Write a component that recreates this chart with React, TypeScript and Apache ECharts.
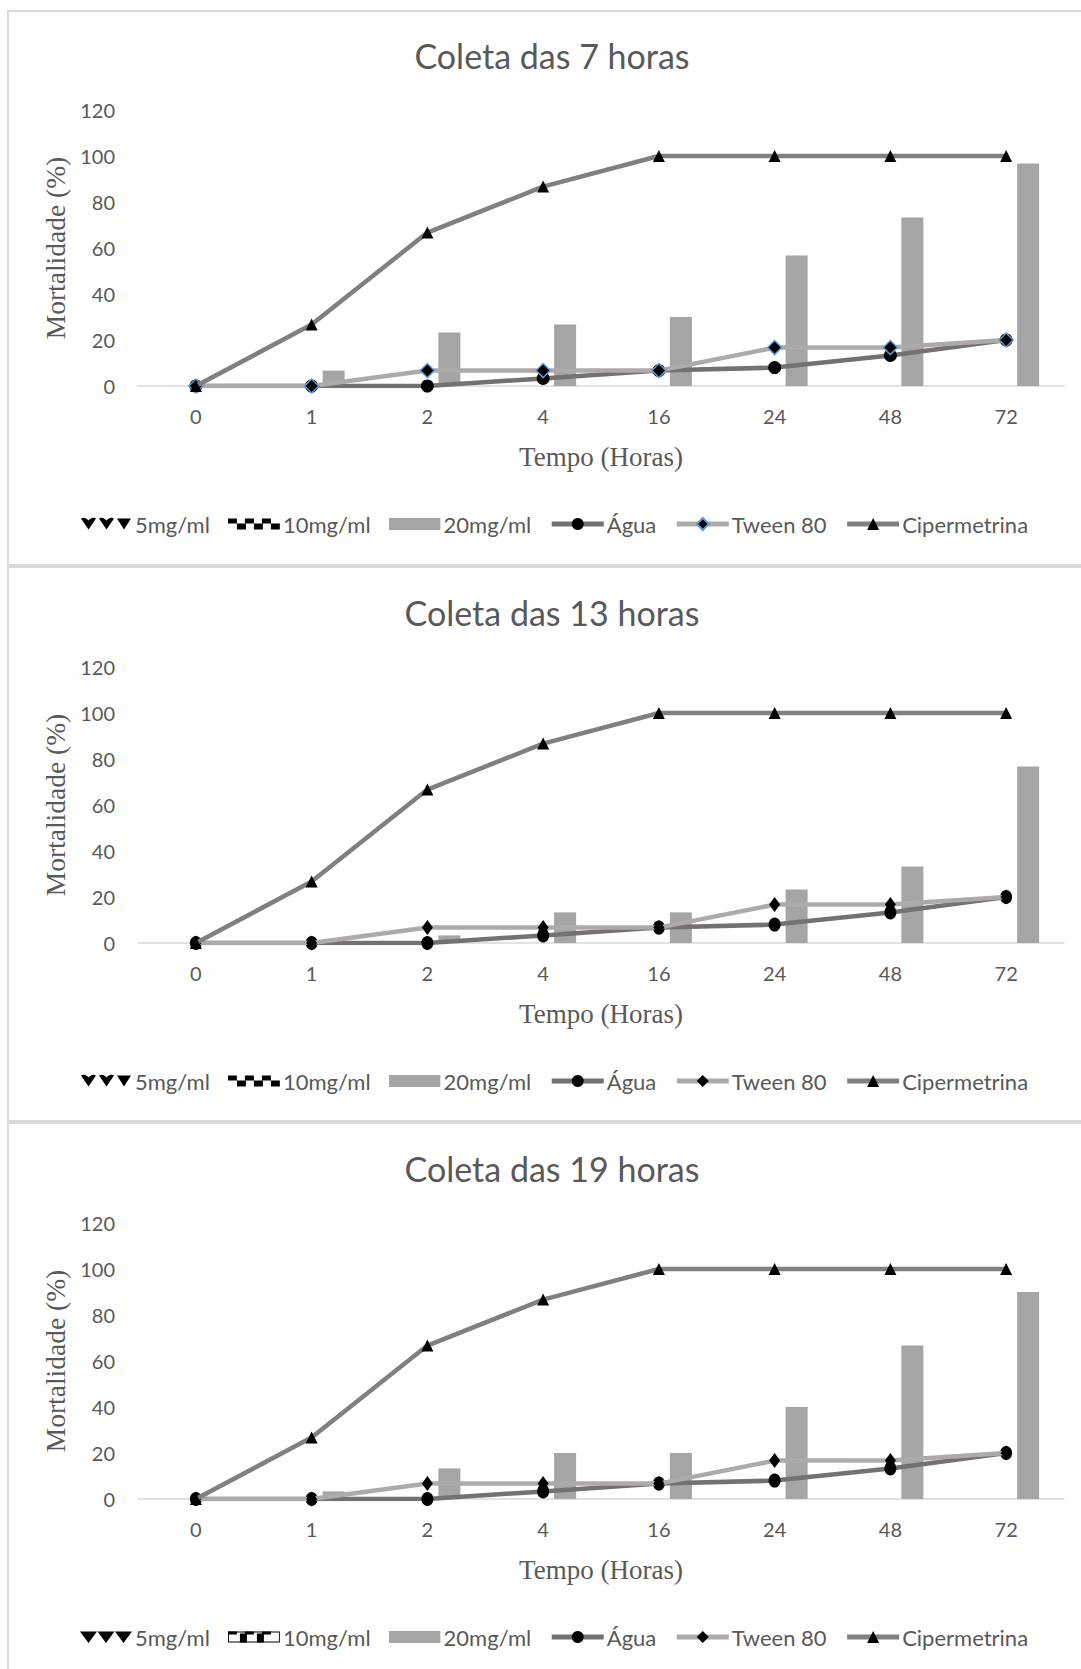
import React, { useEffect, useRef } from "react";
import * as echarts from "echarts";

const categories = ["0", "1", "2", "4", "16", "24", "48", "72"];
const panelTitles = ["Coleta das 7 horas", "Coleta das 13 horas", "Coleta das 19 horas"];
const yTicks = { min: 0, max: 120, interval: 20 };

// values per panel (7h, 13h, 19h)
const mg5 = [
  [0, 0, 0, 0, 0, 0, 0, 0],
  [0, 0, 0, 0, 0, 0, 0, 0],
  [0, 0, 0, 0, 0, 0, 0, 0],
];
const mg10 = [
  [0, 0, 0, 0, 0, 0, 0, 0],
  [0, 0, 0, 0, 0, 0, 0, 0],
  [0, 0, 0, 0, 0, 0, 0, 0],
];
const mg20 = [
  [0, 6.7, 23.3, 26.7, 30, 56.7, 73.3, 96.7],
  [0, 0, 3.3, 13.3, 13.3, 23.3, 33.3, 76.7],
  [0, 3.3, 13.3, 20, 20, 40, 66.7, 90],
];
const agua = [
  [0, 0, 0, 3.3, 6.7, 8, 13.3, 20],
  [0, 0, 0, 3.3, 6.7, 8, 13.3, 20],
  [0, 0, 0, 3.3, 6.7, 8, 13.3, 20],
];
const tween = [
  [0, 0, 6.7, 6.7, 6.7, 16.7, 16.7, 20],
  [0, 0, 6.7, 6.7, 6.7, 16.7, 16.7, 20],
  [0, 0, 6.7, 6.7, 6.7, 16.7, 16.7, 20],
];
const cipermetrina = [
  [0, 26.7, 66.7, 86.7, 100, 100, 100, 100],
  [0, 26.7, 66.7, 86.7, 100, 100, 100, 100],
  [0, 26.7, 66.7, 86.7, 100, 100, 100, 100],
];

const svgUri = (s: string) => "image://data:image/svg+xml;charset=utf-8," + encodeURIComponent(s);
const svgOpen = "<svg xmlns='http://www.w3.org/2000/svg' width='52' height='15' viewBox='0 0 52 15'>";

const icon5a = svgUri(
  svgOpen +
    "<path d='M1 2 C4 0 7 2 8.5 4 C10 2 13 0 16 2 L8.5 13 Z M19 2 C22 0 25 2 26.5 4 C28 2 31 0 34 2 L26.5 13 Z M37 2 L51 2 L44 13 Z' fill='#000'/></svg>"
);
const icon5b = svgUri(
  svgOpen + "<path d='M0 2 L17 2 L8.5 13.5 Z M17.5 2 L34.5 2 L26 13.5 Z M35 2 L52 2 L43.5 13.5 Z' fill='#000'/></svg>"
);
const icon10a = svgUri(
  svgOpen +
    "<rect x='0' y='2' width='52' height='11' fill='#fff'/>" +
    "<rect x='0' y='2' width='9' height='5' fill='#000'/><rect x='17' y='2' width='9' height='5' fill='#000'/><rect x='34' y='2' width='9' height='5' fill='#000'/>" +
    "<rect x='9' y='7' width='9' height='6' fill='#000'/><rect x='26' y='7' width='9' height='6' fill='#000'/><rect x='43' y='7' width='9' height='6' fill='#000'/></svg>"
);
const icon10b = svgUri(
  svgOpen +
    "<rect x='0.5' y='2.5' width='51' height='10' fill='#fff' stroke='#000'/>" +
    "<rect x='0' y='2' width='9' height='3' fill='#000'/><rect x='17' y='2' width='9' height='3' fill='#000'/><rect x='34' y='2' width='9' height='3' fill='#000'/>" +
    "<rect x='12' y='4' width='7' height='9' fill='#000'/><rect x='29' y='4' width='7' height='9' fill='#000'/></svg>"
);
const icon20 = svgUri(svgOpen + "<rect x='0' y='1.5' width='52' height='12' fill='#a5a5a5'/></svg>");

const TXT = "#595959";
const SANS = "Lato";
const SERIF = "Liberation Serif";

export default function App() {
  const ref = useRef<HTMLDivElement>(null);
  useEffect(() => {
    if (!ref.current) return;
    const chart = echarts.init(ref.current, undefined, { renderer: "svg" });
    const gridTops = [110, 667, 1223];
    const titleCenters = [55, 612, 1168];
    const legendCenters = [525, 1082, 1638];

    const grids: any[] = [];
    const xAxes: any[] = [];
    const yAxes: any[] = [];
    const titles: any[] = [];
    const legends: any[] = [];
    const series: any[] = [];

    for (let k = 0; k < 3; k++) {
      grids.push({ left: 138, right: 17, top: gridTops[k], height: 276, containLabel: false });
      xAxes.push({
        type: "category",
        gridIndex: k,
        data: categories,
        axisLine: { lineStyle: { color: "#d9d9d9", width: 1.5 } },
        axisTick: { show: false },
        axisLabel: { color: TXT, fontFamily: SANS, fontSize: 20, margin: 20 },
        name: "Tempo (Horas)",
        nameLocation: "middle",
        nameGap: 57,
        nameTextStyle: { color: TXT, fontFamily: SERIF, fontSize: 27 },
      });
      yAxes.push({
        type: "value",
        gridIndex: k,
        min: yTicks.min,
        max: yTicks.max,
        interval: yTicks.interval,
        axisLine: { show: false },
        axisTick: { show: false },
        splitLine: { show: false },
        axisLabel: { color: TXT, fontFamily: SANS, fontSize: 20, margin: 23 },
        name: "Mortalidade (%)",
        nameLocation: "middle",
        nameRotate: 90,
        nameGap: 63,
        nameTextStyle: { color: TXT, fontFamily: SERIF, fontSize: 27.5 },
      });
      titles.push({
        text: panelTitles[k],
        left: 552,
        top: titleCenters[k] - 19,
        textAlign: "center",
        padding: 0,
        textStyle: { color: TXT, fontFamily: SANS, fontSize: 34, fontWeight: "normal", lineHeight: 38 },
      });
      const tweenLegend: any = { name: "Tween 80" };
      if (k > 0) tweenLegend.itemStyle = { borderWidth: 0, borderColor: "#000" };
      legends.push({
        left: 80,
        top: legendCenters[k] - 12,
        padding: 0,
        itemWidth: 52,
        itemHeight: 15,
        itemGap: 18,
        selectedMode: false,
        lineStyle: { width: 5 },
        textStyle: { color: TXT, fontFamily: SANS, fontSize: 22, padding: [0, 0, 0, -2] },
        data: [
          { name: "5mg/ml", icon: k === 2 ? icon5b : icon5a },
          { name: "10mg/ml", icon: k === 2 ? icon10b : icon10a },
          { name: "20mg/ml", icon: icon20 },
          { name: "Água" },
          tweenLegend,
          { name: "Cipermetrina" },
        ],
      });
      const common = { xAxisIndex: k, yAxisIndex: k };
      series.push(
        { ...common, type: "bar", name: "5mg/ml", data: mg5[k], barWidth: 22, barGap: "0%", itemStyle: { color: "#000" } },
        { ...common, type: "bar", name: "10mg/ml", data: mg10[k], barWidth: 22, barGap: "0%", itemStyle: { color: "#000" } },
        { ...common, type: "bar", name: "20mg/ml", data: mg20[k], barWidth: 22, barGap: "0%", itemStyle: { color: "#a5a5a5" } },
        {
          ...common,
          type: "line",
          name: "Água",
          data: agua[k],
          symbol: "circle",
          symbolSize: k === 0 ? 13 : [12, 14],
          lineStyle: { color: "#767171", width: 4.5 },
          itemStyle: { color: "#000", borderWidth: 0 },
          z: 3,
        },
        {
          ...common,
          type: "line",
          name: "Tween 80",
          data: tween[k],
          symbol: "diamond",
          symbolSize: k === 0 ? 14 : [11, 15],
          lineStyle: { color: "#aeaaaa", width: 4.5 },
          itemStyle: k === 0 ? { color: "#000", borderColor: "#5b9bd5", borderWidth: 1.5 } : { color: "#000", borderWidth: 0 },
          z: 4,
        },
        {
          ...common,
          type: "line",
          name: "Cipermetrina",
          data: cipermetrina[k],
          symbol: "triangle",
          symbolSize: 12,
          lineStyle: { color: "#808080", width: 4.5 },
          itemStyle: { color: "#000", borderWidth: 0 },
          z: 5,
        }
      );
    }

    const borders = [
      { y: 11, h: 554 },
      { y: 567, h: 554 },
      { y: 1123, h: 560 },
    ].map((b) => ({
      type: "rect",
      shape: { x: 8, y: b.y, width: 1090, height: b.h },
      style: { fill: "none", stroke: "#d9d9d9", lineWidth: 2 },
      silent: true,
      z: -1,
    }));

    chart.setOption({
      animation: false,
      backgroundColor: "#fff",
      title: titles,
      legend: legends,
      grid: grids,
      xAxis: xAxes,
      yAxis: yAxes,
      series,
      graphic: borders,
    });
    return () => chart.dispose();
  }, []);
  return <div ref={ref} style={{ position: "absolute", left: 0, top: 0, width: 1081, height: 1669 }} />;
}
